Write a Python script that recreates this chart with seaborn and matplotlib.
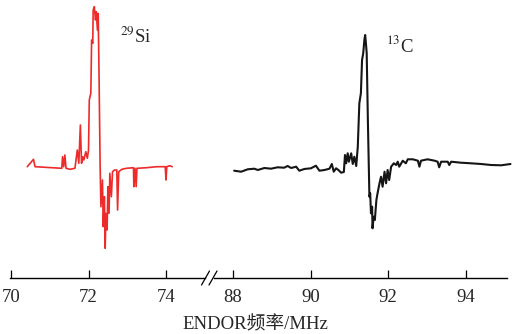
import matplotlib
matplotlib.use("Agg")
import matplotlib.pyplot as plt
from matplotlib.lines import Line2D
import seaborn as sns
import pandas as pd

# ---- data ----
si_freq = [70.42, 70.58, 70.62, 71.31, 71.33, 71.36, 71.39, 71.42, 71.52, 71.65,
           71.71, 71.75, 71.79, 71.82, 71.85, 71.88, 71.93, 71.97, 72.00, 72.02,
           72.06, 72.08, 72.11, 72.12, 72.15, 72.18, 72.20, 72.23, 72.25, 72.27,
           72.30, 72.32, 72.36, 72.38, 72.41, 72.43, 72.45, 72.48, 72.50, 72.53,
           72.55, 72.59, 72.62, 72.67, 72.73, 72.75, 72.78, 72.86, 72.98, 73.16,
           73.17, 73.20, 73.23, 73.25, 73.50, 73.76, 73.98, 74.00, 74.02, 74.10,
           74.16]
si_int = [1.3, 8.7, 1.3, -0.3, 11.3, 1.3, 13, -0.3, -1.3, -0.3,
          18, 4.7, 43, 4.7, 11.3, 8, 16.3, 9.7, 18, 68,
          74.7, 128, 124.7, 158, 161.3, 148, 156.3, 138, 154.7, 98,
          1.3, -38.7, -12, -58.7, -28.7, -80.3, -45.3, -62, -18.7, -45.3,
          -5.3, -28.7, -3.7, -2, -2, -42, -3.7, -1.3, -0.3, 0.3,
          -18.7, -0.3, -18.7, -0.3, 0.3, 1.3, 1.3, -12, 1.3, 2.3,
          1.3]

c_freq = [88.03, 88.21, 88.38, 88.55, 88.64, 88.81, 88.98, 89.15, 89.32, 89.41,
          89.50, 89.63, 89.71, 89.84, 90.01, 90.14, 90.23, 90.36, 90.49, 90.55,
          90.60, 90.66, 90.72, 90.79, 90.86, 90.89, 90.92, 90.96, 90.99, 91.05,
          91.09, 91.13, 91.18, 91.22, 91.26, 91.30, 91.33, 91.36, 91.39, 91.41,
          91.43, 91.45, 91.48, 91.52, 91.54, 91.56, 91.59, 91.60, 91.63, 91.66,
          91.70, 91.73, 91.78, 91.82, 91.86, 91.91, 91.95, 91.99, 92.03, 92.08,
          92.15, 92.21, 92.25, 92.29, 92.38, 92.46, 92.51, 92.64, 92.77, 92.81,
          92.85, 93.02, 93.20, 93.28, 93.32, 93.37, 93.54, 93.58, 93.63, 93.88,
          94.14, 94.40, 94.66, 94.92, 95.16]
c_int = [-2.7, -3.7, -1.3, -0.7, -2, 0, -0.7, 0.7, 0.3, 2,
         0, 1.3, -2.7, -1, -0.3, 2.3, -2.7, -2, -0.7, 4,
         -3.7, -0.3, -2, -4.7, -4, 13, 4.7, 14.7, 6.3, 14.7,
         4, 11.3, 2, 21.3, 64.7, 74.7, 108, 114.7, 128, 133,
         124.7, 114.7, 48, -28.7, -25.3, -45.3, -38.7, -60.3, -48.7, -52,
         -32, -25.3, -15.3, -8.7, -18.7, -3.7, -15.3, -2, -12, 1.3,
         4.7, 3, 6.3, 1.3, 7.3, 4.7, 8.7, 8.7, 7.3, 1.3,
         7.3, 8.7, 7.3, 6.3, 0.7, 6.3, 6.3, 3, 6.3, 5.3,
         4.7, 4, 3, 2.7, 4]

left_ticks = [70, 72, 74]
right_ticks = [88, 90, 92, 94]
left_labels = ["70", "72", "74"]
right_labels = ["88", "90", "92", "94"]
si_label = r"$^{29}$Si"
c_label = r"$^{13}$C"
x_label = "ENDOR频率/MHz"

# ---- style ----
sns.set_style("white")
plt.rcParams["font.family"] = ["Liberation Serif", "Noto Sans CJK SC", "DejaVu Sans"]
plt.rcParams["mathtext.fontset"] = "stix"

W, H = 517, 334
fig = plt.figure(figsize=(W / 100, H / 100), dpi=100)
bottom = (H - 278) / H
ax1 = fig.add_axes([10 / W, bottom, 195 / W, 1 - bottom])
ax2 = fig.add_axes([214 / W, bottom, 293 / W, 1 - bottom])

df_si = pd.DataFrame({"f": si_freq, "I": si_int})
df_c = pd.DataFrame({"f": c_freq, "I": c_int})
sns.lineplot(data=df_si, x="f", y="I", ax=ax1, color="#ee2b2b", lw=1.2,
             estimator=None, sort=False)
sns.lineplot(data=df_c, x="f", y="I", ax=ax2, color="#151515", lw=1.5,
             estimator=None, sort=False)
for ln in ax2.lines:
    ln.set_clip_on(False)

ax1.set_xlim(69.974, 75.006)
ax2.set_xlim(87.51, 95.07)
for ax, ticks, labels in ((ax1, left_ticks, left_labels), (ax2, right_ticks, right_labels)):
    ax.set_ylim(-110, 168)
    ax.set_xticks(ticks)
    ax.set_xticklabels(labels)
    ax.set_yticks([])
    ax.set_xlabel("")
    ax.set_ylabel("")
    ax.patch.set_alpha(0)
    for s in ("left", "right", "top"):
        ax.spines[s].set_visible(False)
    ax.spines["bottom"].set_linewidth(1.0)
    ax.spines["bottom"].set_color("black")
    ax.tick_params(axis="x", direction="in", length=5.5, width=0.9,
                   color="black", labelsize=13.5, pad=8, bottom=True)

ax1.text(72.81, 125, si_label, fontsize=13.5, ha="left", va="baseline")
ax2.text(91.95, 116, c_label, fontsize=13.5, ha="left", va="baseline")

# break marks
yc = 278
for xc in (205.5, 213.0):
    fig.add_artist(Line2D([(xc - 4) / W, (xc + 4) / W],
                          [(H - (yc + 7)) / H, (H - (yc - 7)) / H],
                          color="black", lw=0.9))

fig.text(255 / W, 4.5 / H, x_label, fontsize=13.5, ha="center", va="baseline")

fig.savefig("out.png", dpi=100)
